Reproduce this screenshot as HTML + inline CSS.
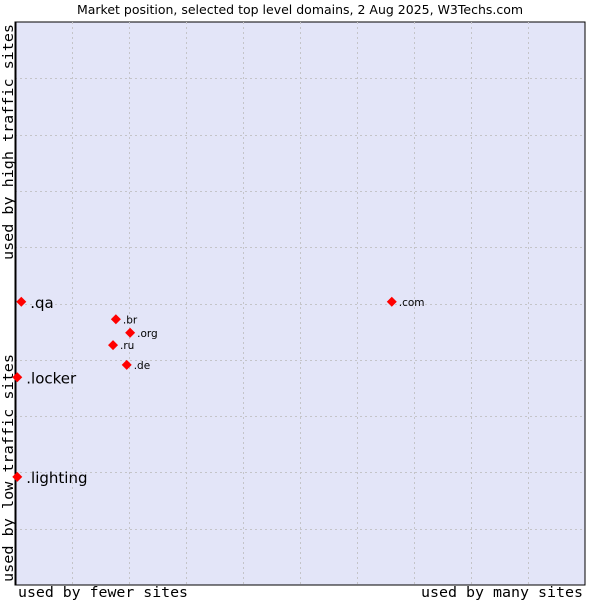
<!DOCTYPE html>
<html><head><meta charset="utf-8"><style>
body{margin:0;background:#fff;width:600px;height:600px;overflow:hidden}
svg text{font-family:"DejaVu Sans","Liberation Sans",sans-serif}
.mono{font-family:"DejaVu Sans Mono","Liberation Mono",monospace}
</style></head><body>
<svg width="600" height="600">
<text x="300" y="14" text-anchor="middle" font-size="12.5">Market position, selected top level domains, 2 Aug 2025, W3Techs.com</text>
<rect x="15" y="22" width="570" height="563" fill="#e3e5f8" stroke="#000" stroke-width="1"/>
<g id="grid"></g>
<line x1="15.5" y1="22" x2="15.5" y2="585" stroke="#000" stroke-width="2"/>
<g id="pts"></g>
<text class="mono" x="18" y="597" font-size="14" textLength="170" lengthAdjust="spacingAndGlyphs">used by fewer sites</text>
<text class="mono" x="421" y="597" font-size="14" textLength="162" lengthAdjust="spacingAndGlyphs">used by many sites</text>
<text class="mono" transform="translate(13,582) rotate(-90)" font-size="14" textLength="228" lengthAdjust="spacingAndGlyphs">used by low traffic sites</text>
<text class="mono" transform="translate(13,260) rotate(-90)" font-size="14" textLength="236" lengthAdjust="spacingAndGlyphs">used by high traffic sites</text>
</svg>
<script>
const labels=[".qa",".br",".org",".ru",".de",".com",".locker",".lighting"];
const xValues=[1.1,17.7,20.2,17.2,19.6,66.1,0.4,0.4];
const yValues=[50.3,47.2,44.8,42.6,39.1,50.3,36.9,19.2];
const big=[true,false,false,false,false,false,true,true];
const X0=15,X1=585,Y0=585,Y1=22;
const sx=v=>X0+v/100*(X1-X0), sy=v=>Y0-v/100*(Y0-Y1);
const NS="http://www.w3.org/2000/svg";
const g=document.getElementById('grid');
for(let i=1;i<10;i++){
 const l=document.createElementNS(NS,'line');
 
 
 const x=Math.round(sx(i*10))+0.5;
 l.setAttribute('x1',x);l.setAttribute('x2',x);l.setAttribute('y1',22);l.setAttribute('y2',585);
 l.setAttribute('stroke','#c4c4c8');l.setAttribute('stroke-dasharray','2,3');g.appendChild(l);
 const h=document.createElementNS(NS,'line');
 
 
 const y=Math.round(sy(i*10))+0.5;
 h.setAttribute('x1',15);h.setAttribute('x2',585);h.setAttribute('y1',y);h.setAttribute('y2',y);
 h.setAttribute('stroke','#c4c4c8');h.setAttribute('stroke-dasharray','2,3');g.appendChild(h);
}
const p=document.getElementById('pts');
labels.forEach((lb,i)=>{
 const x=sx(xValues[i]),y=sy(yValues[i]);
 const d=document.createElementNS(NS,'path');
 
 
 d.setAttribute('d',`M${x-5},${y}L${x},${y-5}L${x+5},${y}L${x},${y+5}Z`);
 d.setAttribute('fill','#f00');p.appendChild(d);
 const t=document.createElementNS(NS,'text');
 
 
 t.setAttribute('x',x+(big[i]?9:7));t.setAttribute('y',y+(big[i]?6:4));
 t.setAttribute('font-size',big[i]?15:10.5);t.textContent=lb;p.appendChild(t);
});
</script>
</body></html>
